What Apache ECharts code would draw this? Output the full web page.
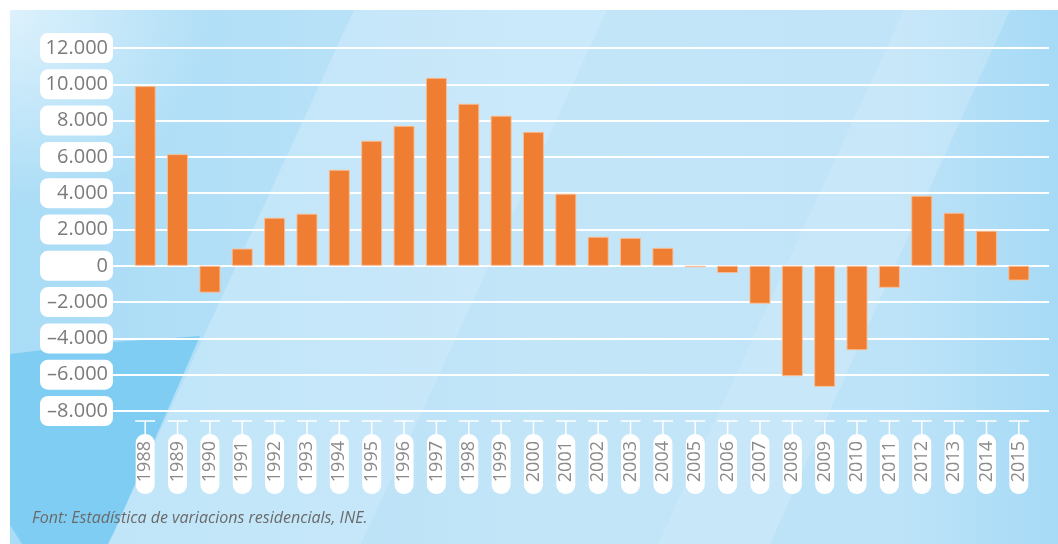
<!DOCTYPE html>
<html>
<head>
<meta charset="utf-8">
<script src="https://cdn.jsdelivr.net/npm/echarts@6/dist/echarts.min.js"></script>
<style>
  html, body { margin: 0; padding: 0; background: #fff; }
  #chart { width: 1058px; height: 544px; }
</style>
</head>
<body>
<div id="chart"></div>
<script>
// dades: variació residencial per any
var years = ['1988', '1989', '1990', '1991', '1992', '1993', '1994', '1995', '1996', '1997',
    '1998', '1999', '2000', '2001', '2002', '2003', '2004', '2005', '2006', '2007',
    '2008', '2009', '2010', '2011', '2012', '2013', '2014', '2015'];
var saldo = [9900, 6150, -1480, 950, 2650, 2870, 5290, 6890, 7710, 10360,
    8930, 8270, 7380, 3970, 1600, 1540, 990, -80, -400, -2090,
    -6080, -6670, -4650, -1210, 3860, 2920, 1930, -810];
var yMin = -8000, yMax = 12000, yStep = 2000;
var sourceNote = 'Font: Estadística de variacions residencials, INE.';

var chart = echarts.init(document.getElementById('chart'));

function fmt(v) {
    var s = String(Math.abs(v)).replace(/\B(?=(\d{3})+(?!\d))/g, '.');
    return v < 0 ? '\u2013' + s : s;
}

var option = {
    animation: false,
    graphic: [
        // fons del quadre
        {
            type: 'rect', z: -100, silent: true,
            shape: { x: 10, y: 10, width: 1048, height: 534 },
            style: {
                fill: new echarts.graphic.LinearGradient(0, 0, 1, 0, [
                    { offset: 0, color: '#a9dcf6' },
                    { offset: 0.5, color: '#bfe4f8' },
                    { offset: 0.85, color: '#bde3f8' },
                    { offset: 1, color: '#a6daf6' }
                ])
            }
        },
        {
            type: 'rect', z: -99, silent: true,
            shape: { x: 10, y: 10, width: 260, height: 200 },
            style: {
                fill: new echarts.graphic.RadialGradient(0, 0, 1, [
                    { offset: 0, color: 'rgba(235,247,254,0.8)' },
                    { offset: 1, color: 'rgba(235,247,254,0)' }
                ])
            }
        },
        {
            type: 'polygon', z: -99, silent: true,
            shape: { points: [[354, 10], [607, 10], [361, 544], [108, 544]] },
            style: { fill: 'rgba(220,241,252,0.4)' }
        },
        {
            type: 'polygon', z: -99, silent: true,
            shape: { points: [[607, 10], [904, 10], [658, 544], [361, 544]] },
            style: { fill: 'rgba(210,237,251,0.2)' }
        },
        {
            type: 'polygon', z: -99, silent: true,
            shape: { points: [[904, 10], [1010, 10], [770, 544], [658, 544]] },
            style: { fill: 'rgba(225,243,253,0.3)' }
        },
        {
            type: 'polygon', z: -98, silent: true,
            shape: { points: [[10, 354], [100, 343], [200, 336], [115, 530], [108, 544], [22, 544], [10, 525]] },
            style: { fill: '#80cdf3' }
        },
        {
            type: 'text', z: 10, left: 32, top: 510,
            style: {
                text: sourceNote,
                fill: '#6a6a6a',
                font: 'italic 16px "Open Sans"'
            }
        }
    ],
    grid: [
        { left: 113, right: 9, top: 48, bottom: 133 },
        { left: 129, right: 23, top: 48, bottom: 133 }
    ],
    xAxis: [
        { gridIndex: 0, type: 'value', show: false, min: 0, max: 1 },
        {
            gridIndex: 1,
            type: 'category',
            data: years,
            axisLine: { show: false, onZero: false },
            axisTick: { show: false },
            axisLabel: {
                rotate: 90,
                margin: 23,
                color: '#8a8a8a',
                fontFamily: 'Open Sans',
                fontSize: 18,
                lineHeight: 19,
                width: 43,
                overflow: 'none',
                backgroundColor: '#fff',
                borderRadius: 9,
                padding: [0, 7, 0, 10]
            }
        }
    ],
    yAxis: [
        {
            gridIndex: 0,
            type: 'value',
            min: yMin, max: yMax, interval: yStep,
            axisLine: { show: false },
            axisTick: { show: false },
            splitLine: { lineStyle: { color: '#ffffff', width: 2 } },
            axisLabel: {
                formatter: fmt,
                margin: 0,
                color: '#7b7b7b',
                fontFamily: 'Open Sans',
                fontSize: 20,
                lineHeight: 20,
                width: 62,
                align: 'right',
                backgroundColor: '#fff',
                borderRadius: 8,
                padding: [5, 5, 5, 6]
            }
        },
        {
            gridIndex: 1,
            type: 'value',
            min: yMin, max: yMax, interval: yStep,
            show: false,
            splitLine: { show: false }
        }
    ],
    series: [
        {
            type: 'bar',
            xAxisIndex: 1,
            yAxisIndex: 1,
            data: saldo,
            barWidth: 21,
            itemStyle: {
                color: '#ef7d32',
                borderColor: 'rgba(250,190,150,0.9)',
                borderWidth: 1
            }
        },
        {
            // marques en T sobre les etiquetes dels anys
            type: 'custom',
            xAxisIndex: 1,
            yAxisIndex: 1,
            clip: false,
            silent: true,
            data: years.map(function (y, i) { return [i, 0]; }),
            renderItem: function (params, api) {
                var x = api.coord([api.value(0), 0])[0];
                var cs = params.coordSys;
                var yb = cs.y + cs.height + 10;
                var st = { stroke: '#ffffff', lineWidth: 1.5 };
                return {
                    type: 'group',
                    children: [
                        { type: 'line', shape: { x1: x - 10, y1: yb, x2: x + 10, y2: yb }, style: st },
                        { type: 'line', shape: { x1: x, y1: yb, x2: x, y2: yb + 13 }, style: st }
                    ]
                };
            }
        }
    ]
};

chart.setOption(option);
</script>
</body>
</html>
